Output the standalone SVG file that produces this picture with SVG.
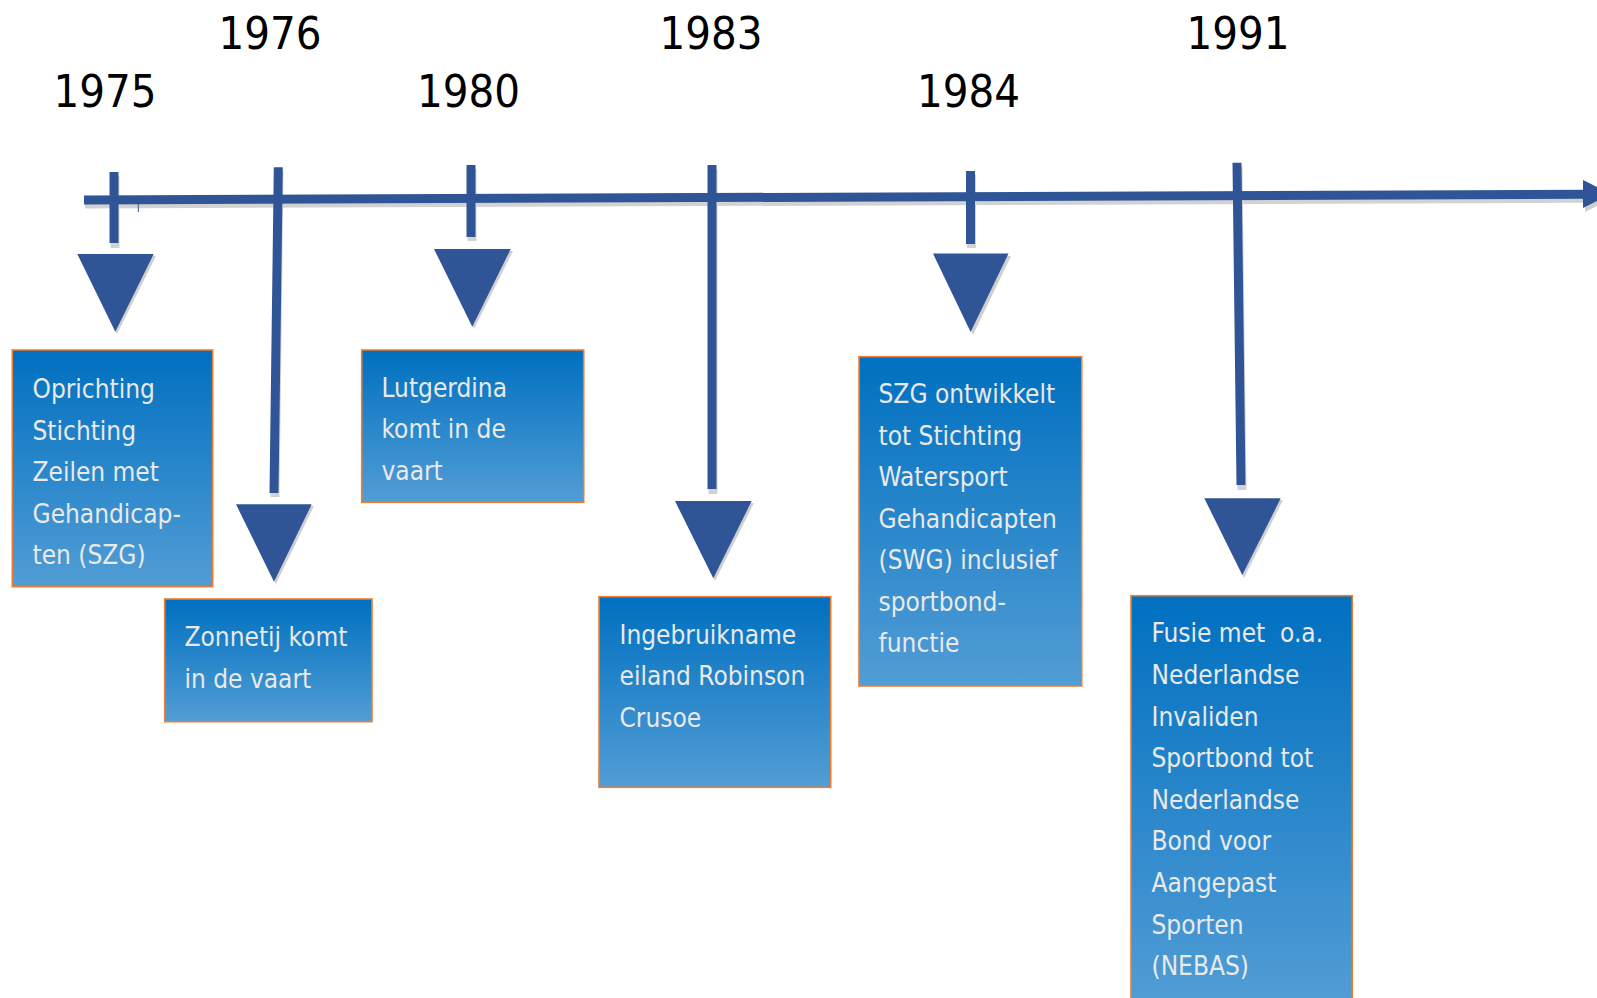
<svg xmlns="http://www.w3.org/2000/svg" width="1597" height="998" viewBox="0 0 1597 998">
<style>
.yr{font-family:'DejaVu Sans Condensed','DejaVu Sans',sans-serif;font-stretch:condensed;font-size:45px;fill:#000;text-anchor:middle}
.tx{font-family:'DejaVu Sans Condensed','DejaVu Sans',sans-serif;font-stretch:condensed;font-size:26px;fill:#E9E9E9}
.box{fill:url(#bg);stroke:#ED7D31;stroke-width:1.6}
.ln{stroke:#2F5597;stroke-width:9;fill:none}
.sh{stroke:#D2D2D2;stroke-width:9;fill:none}
.tri{fill:#2F5597}
.trish{fill:#CFCFCF}
</style>
<defs>
<linearGradient id="bg" x1="0" y1="0" x2="0" y2="1">
<stop offset="0" stop-color="#0070C0"/>
<stop offset="1" stop-color="#529DD5"/>
</linearGradient>
</defs>
<rect width="1597" height="998" fill="#fff"/>
<g id="connectors">
<!-- shadows -->
<line class="sh" x1="85" y1="204" x2="1585" y2="198.2"/>
<line class="sh" x1="115" y1="176" x2="115" y2="248"/>
<line class="sh" x1="279" y1="172" x2="275" y2="497"/>
<line class="sh" x1="472" y1="169" x2="472" y2="241"/>
<line class="sh" x1="713" y1="169" x2="713" y2="494"/>
<line class="sh" x1="971.5" y1="175" x2="971.5" y2="248"/>
<line class="sh" x1="1238" y1="167" x2="1242" y2="490"/>
<polygon class="trish" points="1585,184 1585,212 1613,198"/>
<polygon class="trish" points="79,256 156,256 117,334"/>
<polygon class="trish" points="238,506 314,506 276,584"/>
<polygon class="trish" points="436,251 513,251 474,329"/>
<polygon class="trish" points="677,503 754,503 715,581"/>
<polygon class="trish" points="935,256 1011,256 973,335"/>
<polygon class="trish" points="1206,500 1283,500 1244,578"/>
<!-- axis -->
<line class="ln" x1="84" y1="200" x2="1585" y2="194.2"/>
<polygon class="tri" points="1583,180 1583,208 1611,194"/>
<line x1="138.3" y1="200" x2="138.3" y2="212" stroke="#2F5597" stroke-width="1"/>
<!-- ticks and drop lines -->
<line class="ln" x1="114" y1="172" x2="114" y2="243"/>
<line class="ln" x1="278.3" y1="167.3" x2="274" y2="493"/>
<line class="ln" x1="471" y1="165" x2="471" y2="237"/>
<line class="ln" x1="712" y1="165" x2="712" y2="489"/>
<line class="ln" x1="970.5" y1="171" x2="970.5" y2="244"/>
<line class="ln" x1="1237" y1="162.7" x2="1241" y2="485"/>
<!-- arrowheads -->
<polygon class="tri" points="77.3,254 153.7,254 115.3,331.7"/>
<polygon class="tri" points="236,504.3 311.7,504.3 274,581.7"/>
<polygon class="tri" points="434,249 510.7,249 472.3,326.7"/>
<polygon class="tri" points="675,501 751.7,501 713.3,578.3"/>
<polygon class="tri" points="933,253.6 1008.5,253.6 970.6,332"/>
<polygon class="tri" points="1204.3,498.3 1280.7,498.3 1242.3,575"/>
</g>
<g id="node-1975">
<text class="yr" x="105" y="106.5">1975</text>
<rect class="box" x="12.3" y="350" width="200.4" height="236.7"/>
<text class="tx" x="32.5" y="398">Oprichting</text>
<text class="tx" x="32.5" y="439.5">Stichting</text>
<text class="tx" x="32.5" y="481">Zeilen met</text>
<text class="tx" x="32.5" y="522.5">Gehandicap-</text>
<text class="tx" x="32.5" y="564">ten (SZG)</text>
</g>
<g id="node-1976">
<text class="yr" x="270" y="49">1976</text>
<rect class="box" x="164.7" y="599" width="207.3" height="122.7"/>
<text class="tx" x="184.5" y="646">Zonnetij komt</text>
<text class="tx" x="184.5" y="687.5">in de vaart</text>
</g>
<g id="node-1980">
<text class="yr" x="468.5" y="106.5">1980</text>
<rect class="box" x="361.7" y="350" width="222" height="152.3"/>
<text class="tx" x="381.5" y="396.5">Lutgerdina</text>
<text class="tx" x="381.5" y="438">komt in de</text>
<text class="tx" x="381.5" y="479.5">vaart</text>
</g>
<g id="node-1983">
<text class="yr" x="711" y="49">1983</text>
<rect class="box" x="599" y="596.7" width="231.7" height="190.6"/>
<text class="tx" x="619.5" y="643.5">Ingebruikname</text>
<text class="tx" x="619.5" y="685">eiland Robinson</text>
<text class="tx" x="619.5" y="726.5">Crusoe</text>
</g>
<g id="node-1984">
<text class="yr" x="968.6" y="106.5">1984</text>
<rect class="box" x="859" y="356.7" width="222.7" height="329.3"/>
<text class="tx" x="878.5" y="403.3">SZG ontwikkelt</text>
<text class="tx" x="878.5" y="444.8">tot Stichting</text>
<text class="tx" x="878.5" y="486.3">Watersport</text>
<text class="tx" x="878.5" y="527.8">Gehandicapten</text>
<text class="tx" x="878.5" y="569.3">(SWG) inclusief</text>
<text class="tx" x="878.5" y="610.8">sportbond-</text>
<text class="tx" x="878.5" y="652.3">functie</text>
</g>
<g id="node-1991">
<text class="yr" x="1238" y="49">1991</text>
<rect class="box" x="1131" y="595.7" width="221.3" height="410"/>
<text class="tx" x="1151.5" y="642.3" xml:space="preserve">Fusie met  o.a.</text>
<text class="tx" x="1151.5" y="683.9">Nederlandse</text>
<text class="tx" x="1151.5" y="725.5">Invaliden</text>
<text class="tx" x="1151.5" y="767.1">Sportbond tot</text>
<text class="tx" x="1151.5" y="808.7">Nederlandse</text>
<text class="tx" x="1151.5" y="850.3">Bond voor</text>
<text class="tx" x="1151.5" y="891.9">Aangepast</text>
<text class="tx" x="1151.5" y="933.5">Sporten</text>
<text class="tx" x="1151.5" y="975.1">(NEBAS)</text>
</g>
</svg>
